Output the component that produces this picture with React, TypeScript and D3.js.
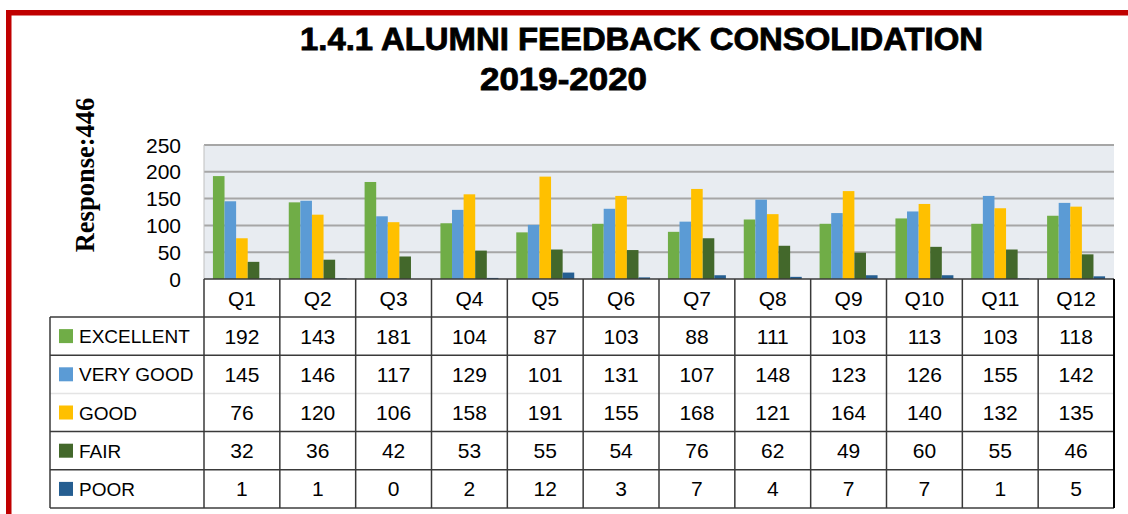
import React from "react";
import * as d3 from "d3";

const categories = ["Q1", "Q2", "Q3", "Q4", "Q5", "Q6", "Q7", "Q8", "Q9", "Q10", "Q11", "Q12"];
const seriesNames = ["EXCELLENT", "VERY GOOD", "GOOD", "FAIR", "POOR"];
const excellent = [192, 143, 181, 104, 87, 103, 88, 111, 103, 113, 103, 118];
const veryGood = [145, 146, 117, 129, 101, 131, 107, 148, 123, 126, 155, 142];
const good = [76, 120, 106, 158, 191, 155, 168, 121, 164, 140, 132, 135];
const fair = [32, 36, 42, 53, 55, 54, 76, 62, 49, 60, 55, 46];
const poor = [1, 1, 0, 2, 12, 3, 7, 4, 7, 7, 1, 5];
const yTicks = [0, 50, 100, 150, 200, 250];
const colors = ["#70AD47", "#5B9BD5", "#FFC000", "#43682B", "#255E91"];
const titleLine1 = "1.4.1 ALUMNI FEEDBACK CONSOLIDATION";
const titleLine2 = "2019-2020";
const axisTitle = "Response:446";

const seriesValues = [excellent, veryGood, good, fair, poor];

export default function App() {
  const W = 1128;
  const H = 514;
  const plotL = 204;
  const plotR = 1114;
  const plotT = 145;
  const plotB = 279;
  const headerB = 317;
  const rowH = 38.2;
  const tableL = 50;

  const x = d3.scaleBand<string>().domain(categories).range([plotL, plotR]).paddingInner(0).paddingOuter(0);
  const bw = x.bandwidth();
  const xi = d3.scaleBand<string>().domain(seriesNames).range([0, bw]).paddingInner(0).paddingOuter(0.77);
  const y = d3.scaleLinear().domain([0, 250]).range([plotB, plotT]);

  const sans = "'Liberation Sans', Arial, sans-serif";
  const lineColor = "#3a3a3a";

  const rowY = (i: number) => headerB + i * rowH;

  return (
    <svg width={W} height={H} style={{ position: "absolute", left: 0, top: 0, display: "block" }}>
      <rect x={0} y={0} width={W} height={H} fill="#ffffff" />
      {/* red frame */}
      <rect x={6} y={10} width={W - 6} height={5.5} fill="#C00000" />
      <rect x={6} y={10} width={5.5} height={H - 10} fill="#C00000" />

      {/* titles */}
      <text x={300} y={50} fontFamily={sans} fontWeight={900} fontSize={31} textLength={683} lengthAdjust="spacingAndGlyphs" fill="#000" stroke="#000" strokeWidth={0.8}>
        {titleLine1}
      </text>
      <text x={480} y={90} fontFamily={sans} fontWeight={900} fontSize={31} textLength={167} lengthAdjust="spacingAndGlyphs" fill="#000" stroke="#000" strokeWidth={0.8}>
        {titleLine2}
      </text>

      {/* axis title */}
      <text
        transform={`translate(94,175) rotate(-90)`}
        textAnchor="middle"
        fontFamily="'Liberation Serif', 'Times New Roman', serif"
        fontWeight="bold"
        fontSize={26.5}
        fill="#000"
      >
        {axisTitle}
      </text>

      {/* plot background */}
      <rect x={plotL} y={plotT} width={plotR - plotL} height={plotB - plotT} fill="#E8ECF1" />

      {/* gridlines */}
      {yTicks.filter((t) => t > 0).map((t) => (
        <line key={t} x1={plotL} x2={plotR} y1={y(t)} y2={y(t)} stroke="#A6A6A6" strokeWidth={2} />
      ))}
      <line x1={plotL} x2={plotL} y1={plotT} y2={plotB} stroke="#BFBFBF" strokeWidth={1} />

      {/* y tick labels */}
      {yTicks.map((t) => (
        <text key={t} x={181} y={y(t) + 7.5} textAnchor="end" fontFamily={sans} fontSize={21} fill="#000">
          {t}
        </text>
      ))}

      {/* bars */}
      {categories.map((c, ci) => (
        <g key={c} transform={`translate(${x(c)},0)`}>
          {seriesNames.map((s, si) => {
            const v = seriesValues[si][ci];
            return (
              <rect
                key={s}
                x={xi(s)}
                y={y(v)}
                width={xi.bandwidth()}
                height={plotB - y(v)}
                fill={colors[si]}
              />
            );
          })}
        </g>
      ))}

      {/* table: header row labels */}
      {categories.map((c) => (
        <text key={c} x={(x(c) as number) + bw / 2} y={(plotB + headerB) / 2 + 7.5} textAnchor="middle" fontFamily={sans} fontSize={21} fill="#000">
          {c}
        </text>
      ))}

      {/* table rows */}
      {seriesNames.map((s, si) => {
        const cy = rowY(si) + rowH / 2;
        return (
          <g key={s}>
            <rect x={59} y={cy - 7} width={14} height={14} fill={colors[si]} />
            <text x={79} y={cy + 7} fontFamily={sans} fontSize={19} fill="#000">
              {s}
            </text>
            {categories.map((c, ci) => (
              <text key={c} x={(x(c) as number) + bw / 2} y={cy + 7.5} textAnchor="middle" fontFamily={sans} fontSize={21} fill="#000">
                {seriesValues[si][ci]}
              </text>
            ))}
          </g>
        );
      })}

      {/* table lines */}
      <line x1={plotL} x2={plotR} y1={plotB} y2={plotB} stroke={lineColor} strokeWidth={1.5} />
      {d3.range(seriesNames.length + 1).map((i) => (
        <line
          key={i}
          x1={tableL}
          x2={plotR}
          y1={rowY(i)}
          y2={rowY(i)}
          stroke={i === 2 ? "#E4E4E4" : i === seriesNames.length ? "#6e6e6e" : lineColor}
          strokeWidth={i === seriesNames.length ? 2 : 1.5}
        />
      ))}
      <line x1={tableL} x2={tableL} y1={headerB} y2={rowY(seriesNames.length)} stroke={lineColor} strokeWidth={1.5} />
      {categories.map((c) => (
        <line key={c} x1={x(c) as number} x2={x(c) as number} y1={plotB} y2={rowY(seriesNames.length)} stroke={lineColor} strokeWidth={1.5} />
      ))}
      <line x1={plotR} x2={plotR} y1={plotB} y2={rowY(seriesNames.length)} stroke="#000" strokeWidth={2} />
    </svg>
  );
}
